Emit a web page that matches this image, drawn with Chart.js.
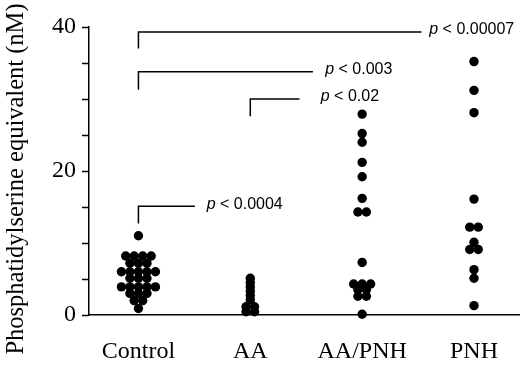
<!DOCTYPE html>
<html>
<head>
<meta charset="utf-8">
<script src="https://cdn.jsdelivr.net/npm/chart.js@4.4.0/dist/chart.umd.min.js"></script>
<style>
  html, body { margin: 0; padding: 0; background: #fff; }
</style>
</head>
<body>
<canvas id="ps-chart" width="520" height="370"></canvas>
<script>
const groups = ["Control", "AA", "AA/PNH", "PNH"];

const controlValues = [11.0, 8.2, 8.2, 8.2, 8.2, 7.2, 7.2, 7.2, 6.0, 6.0, 6.0, 6.0, 6.0,
  5.1, 5.1, 5.1, 3.9, 3.9, 3.9, 3.9, 3.9, 3.0, 3.0, 3.0, 2.0, 2.0, 0.9];
const aaValues = [5.1, 4.5, 3.9, 3.3, 2.7, 2.1, 1.15, 1.15, 0.45, 0.45];
const aaPnhValues = [27.9, 25.2, 24.0, 21.2, 19.2, 16.2, 14.3, 14.3, 7.3,
  4.3, 4.3, 4.3, 3.5, 3.5, 2.6, 2.6, 0.1];
const pnhValues = [35.2, 31.2, 28.1, 16.1, 12.2, 12.2, 10.1, 9.1, 9.1, 6.3, 5.1, 1.3];

const yTicks = [0, 5, 10, 15, 20, 25, 30, 35, 40];
const yLabelled = [0, 20, 40];
const yTitle = "Phosphatidylserine equivalent (nM)";

// comparison brackets, in axis units (group index / nM)
const comparisons = [
  { from: 0, to: 2.53, top: 39.3, foot: 37.0, labelAt: 2.6, p: "0.00007" },
  { from: 0, to: 1.56, top: 33.8, foot: 31.3, labelAt: 1.67, p: "0.003" },
  { from: 1, to: 1.44, top: 30.0, foot: 27.6, labelAt: 1.63, p: "0.02" },
  { from: 0, to: 0.505, top: 15.1, foot: 12.7, labelAt: 0.61, p: "0.0004" },
];

const serif = "'Liberation Serif', 'Times New Roman', serif";
const sans = "'Liberation Sans', Arial, sans-serif";

// spread equal values side by side, like the hand-made dot plot
const dotStep = 0.076;
function swarm(values, groupIndex) {
  const rows = new Map();
  values.forEach((v) => rows.set(v, (rows.get(v) || 0) + 1));
  const pts = [];
  rows.forEach((n, v) => {
    for (let i = 0; i < n; i++) {
      pts.push({ x: groupIndex + (i - (n - 1) / 2) * dotStep, y: v });
    }
  });
  return pts;
}

const allPoints = [controlValues, aaValues, aaPnhValues, pnhValues]
  .map((vals, i) => swarm(vals, i))
  .flat();

//Brackets with p values + rotated y title
const bracketPlugin = {
  id: "brackets",
  afterDatasetsDraw(chart) {
    const { ctx, scales: { x, y } } = chart;
    ctx.save();
    ctx.strokeStyle = "#000";
    ctx.fillStyle = "#000";
    ctx.lineWidth = 1.5;
    ctx.textBaseline = "middle";
    comparisons.forEach((c) => {
      const x0 = x.getPixelForValue(c.from);
      const x1 = x.getPixelForValue(c.to);
      const yTop = y.getPixelForValue(c.top);
      const yFoot = y.getPixelForValue(c.foot);
      ctx.beginPath();
      ctx.moveTo(x0, yFoot);
      ctx.lineTo(x0, yTop);
      ctx.lineTo(x1, yTop);
      ctx.stroke();

      let tx = x.getPixelForValue(c.labelAt);
      const ty = yTop - 2;
      ctx.font = "italic 16px " + sans;
      ctx.fillText("p", tx, ty);
      tx += ctx.measureText("p").width;
      ctx.font = "16px " + sans;
      ctx.fillText(" < " + c.p, tx, ty);
    });

    // axis title sits a little below the axis middle in the original
    ctx.translate(17, 179);
    ctx.rotate(-Math.PI / 2);
    ctx.textAlign = "center";
    ctx.font = "24.5px " + serif;
    ctx.fillText(yTitle, 0, 0);
    ctx.restore();
  },
};

const ctx = document.getElementById("ps-chart").getContext("2d");

new Chart(ctx, {
  type: "scatter",
  data: {
    datasets: [
      {
        data: allPoints,
        backgroundColor: "#000",
        borderWidth: 0,
        pointRadius: 4.7,
        pointHoverRadius: 4.7,
        clip: false,
      },
    ],
  },
  options: {
    responsive: false,
    animation: false,
    layout: {
      autoPadding: false,
      padding: { top: 27, right: 0, bottom: 0, left: 0 },
    },
    plugins: {
      legend: { display: false },
      tooltip: { enabled: false },
    },
    scales: {
      x: {
        type: "linear",
        min: -0.442,
        max: 3.409,
        afterBuildTicks: (scale) => {
          scale.ticks = groups.map((g, i) => ({ value: i }));
        },
        afterFit: (scale) => {
          scale.height = 55;
        },
        ticks: {
          autoSkip: false,
          maxRotation: 0,
          padding: 22,
          color: "#000",
          font: { family: serif, size: 24 },
          callback: (v) => groups[v] ?? "",
        },
        grid: { display: false, drawTicks: false },
        border: { color: "#000", width: 1.5 },
      },
      y: {
        min: 0,
        max: 40,
        afterBuildTicks: (scale) => {
          scale.ticks = yTicks.map((v) => ({ value: v }));
        },
        afterFit: (scale) => {
          scale.width = 89;
        },
        ticks: {
          padding: 6,
          color: "#000",
          font: { family: serif, size: 24 },
          callback: (v) => (yLabelled.includes(v) ? v : ""),
        },
        grid: {
          drawOnChartArea: false,
          drawTicks: true,
          tickLength: 7,
          tickWidth: 1.5,
          color: "#000",
        },
        border: { color: "#000", width: 1.5 },
      },
    },
  },
  plugins: [bracketPlugin],
});
</script>
</body>
</html>
